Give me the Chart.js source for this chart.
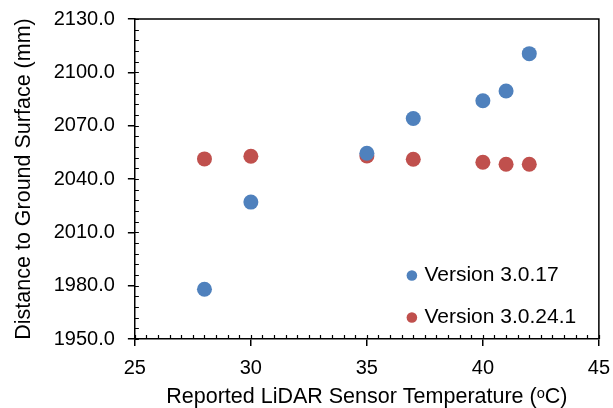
<!DOCTYPE html>
<html>
<head>
<meta charset="utf-8">
<script src="https://cdn.jsdelivr.net/npm/chart.js@4"></script>
<style>
  html, body { margin: 0; padding: 0; background: #fff; }
  #wrap { width: 613px; height: 408px; }
</style>
</head>
<body>
<div id="wrap"><canvas id="myChart" width="613" height="408"></canvas></div>
<script>
// temperature (C) for each run
const temps = [28, 30, 35, 37, 40, 41, 42];
// distance to ground (mm)
const v3017 = [1978, 2027, 2054.5, 2074, 2084, 2089.5, 2110.5];
const v30241 = [2051.3, 2052.8, 2053, 2051.1, 2049.4, 2048.3, 2048.3];
const seriesNames = ['Version 3.0.17', 'Version 3.0.24.1'];
const seriesColors = ['#4F81BD', '#C0504D'];

const xTicks = [25, 30, 35, 40, 45];
const yTicks = [1950, 1980, 2010, 2040, 2070, 2100, 2130];

const FONT = '"Liberation Sans", Arial, sans-serif';

function toPoints(xs, ys) {
	return xs.map((x, i) => ({ x: x, y: ys[i] }));
}

// frame on top/right, minor ticks inside the plot, and the legend box
const framePlugin = {
	id: 'frame',
	afterDraw(chart) {
		const ctx = chart.ctx;
		const a = chart.chartArea;
		const xs = chart.scales.x, ys = chart.scales.y;
		ctx.save();
		ctx.strokeStyle = '#000';
		ctx.lineWidth = 1.5;
		ctx.beginPath();
		ctx.moveTo(a.left, a.top);
		ctx.lineTo(a.right, a.top);
		ctx.lineTo(a.right, a.bottom);
		ctx.stroke();

		// minor ticks
		ctx.lineWidth = 1.2;
		ctx.beginPath();
		for (let v = xs.min; v <= xs.max; v += 0.5) {
			const px = Math.round(xs.getPixelForValue(v)) + 0.5;
			ctx.moveTo(px, a.bottom);
			ctx.lineTo(px, a.bottom - 4);
		}
		for (let v = ys.min; v <= ys.max; v += 6) {
			const py = Math.round(ys.getPixelForValue(v)) + 0.5;
			ctx.moveTo(a.left, py);
			ctx.lineTo(a.left + 4, py);
		}
		ctx.stroke();

		// legend
		ctx.font = '21px ' + FONT;
		ctx.textBaseline = 'middle';
		ctx.textAlign = 'left';
		const lx = a.right - 187;
		const rows = [a.bottom - 63.5, a.bottom - 21.5];
		chart.data.datasets.forEach((ds, i) => {
			ctx.fillStyle = ds.backgroundColor;
			ctx.beginPath();
			ctx.arc(lx, rows[i], 5.3, 0, Math.PI * 2);
			ctx.fill();
			ctx.fillStyle = '#000';
			ctx.fillText(ds.label, lx + 12.5, rows[i]);
		});
		ctx.restore();
	}
};

function initialize() {
	const ctx = document.getElementById('myChart');
	new Chart(ctx, {
		type: 'scatter',
		data: {
			datasets: [{
				label: seriesNames[0],
				data: toPoints(temps, v3017),
				backgroundColor: seriesColors[0],
				borderColor: seriesColors[0],
				pointRadius: 7.5,
				borderWidth: 0
			}, {
				label: seriesNames[1],
				data: toPoints(temps, v30241),
				backgroundColor: seriesColors[1],
				borderColor: seriesColors[1],
				pointRadius: 7.5,
				borderWidth: 0
			}]
		},
		options: {
			responsive: false,
			animation: false,
			layout: { padding: { top: 19, right: 0, left: 0, bottom: 0 } },
			plugins: {
				legend: { display: false },
				tooltip: { enabled: false }
			},
			scales: {
				x: {
					type: 'linear',
					min: xTicks[0],
					max: xTicks[xTicks.length - 1],
					afterBuildTicks: (s) => { s.ticks = xTicks.map(v => ({ value: v })); },
					border: { color: '#000', width: 1.5 },
					grid: { drawOnChartArea: false, drawTicks: true, tickLength: 7, tickColor: '#000', lineWidth: 1.5 },
					ticks: { color: '#000', padding: 3, font: { family: FONT, size: 20, lineHeight: 1.95 } },
					title: {
						display: true,
						text: 'Reported LiDAR Sensor Temperature (\u1D52C)',
						color: '#000',
						font: { family: FONT, size: 21.5, lineHeight: 1.0 },
						padding: { top: -5, bottom: 0.5 }
					}
				},
				y: {
					type: 'linear',
					min: yTicks[0],
					max: yTicks[yTicks.length - 1],
					afterBuildTicks: (s) => { s.ticks = yTicks.map(v => ({ value: v })); },
					border: { color: '#000', width: 1.5 },
					grid: { drawOnChartArea: false, drawTicks: true, tickLength: 7, tickColor: '#000', lineWidth: 1.5 },
					ticks: {
						color: '#000',
						padding: 13,
						font: { family: FONT, size: 20, lineHeight: 0.5 },
						callback: (v) => Number(v).toFixed(1)
					},
					title: {
						display: true,
						text: 'Distance to Ground Surface (mm)',
						color: '#000',
						font: { family: FONT, size: 21.5 },
						padding: { top: 11, bottom: 3.9 }
					}
				}
			}
		},
		plugins: [framePlugin]
	});
}
initialize();
</script>
</body>
</html>
